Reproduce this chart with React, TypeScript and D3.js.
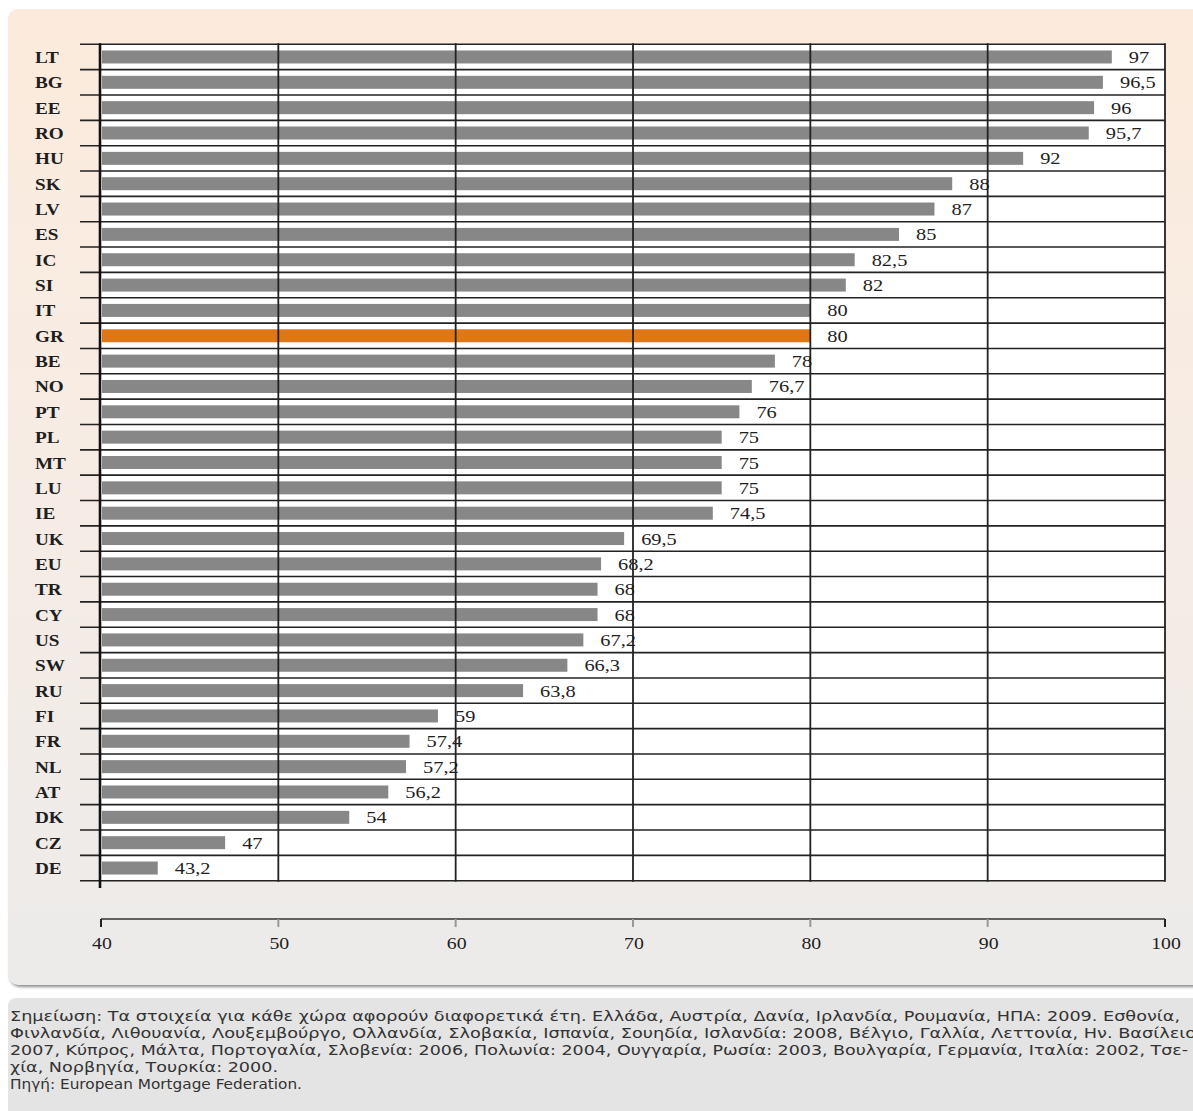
import React from "react";
import * as d3 from "d3";

const countries = ["LT","BG","EE","RO","HU","SK","LV","ES","IC","SI","IT","GR","BE","NO","PT","PL","MT","LU","IE","UK","EU","TR","CY","US","SW","RU","FI","FR","NL","AT","DK","CZ","DE"];
const values = [97,96.5,96,95.7,92,88,87,85,82.5,82,80,80,78,76.7,76,75,75,75,74.5,69.5,68.2,68,68,67.2,66.3,63.8,59,57.4,57.2,56.2,54,47,43.2];
const valueLabels = ["97","96,5","96","95,7","92","88","87","85","82,5","82","80","80","78","76,7","76","75","75","75","74,5","69,5","68,2","68","68","67,2","66,3","63,8","59","57,4","57,2","56,2","54","47","43,2"];
const highlight = "GR";
const xTicks = [40,50,60,70,80,90,100];
const noteLines = [
  "Σημείωση: Τα στοιχεία για κάθε χώρα αφορούν διαφορετικά έτη. Ελλάδα, Αυστρία, Δανία, Ιρλανδία, Ρουμανία, ΗΠΑ: 2009. Εσθονία,",
  "Φινλανδία, Λιθουανία, Λουξεμβούργο, Ολλανδία, Σλοβακία, Ισπανία, Σουηδία, Ισλανδία: 2008, Βέλγιο, Γαλλία, Λεττονία, Ην. Βασίλειο:",
  "2007, Κύπρος, Μάλτα, Πορτογαλία, Σλοβενία: 2006, Πολωνία: 2004, Ουγγαρία, Ρωσία: 2003, Βουλγαρία, Γερμανία, Ιταλία: 2002, Τσε-",
  "χία, Νορβηγία, Τουρκία: 2000.",
  "Πηγή: European Mortgage Federation."
];
const noteWidths = [1170, 1192, 1178, 268, 292];

const W = 1193, H = 1111;
const serif = "'Liberation Serif', 'Times New Roman', serif";

function SText({ x, y, anchor = "start", bold = false, size = 16, children }: any) {
  return (
    <g transform={`translate(${x},${y}) scale(1.2,1)`}>
      <text x={0} y={0} textAnchor={anchor} fontFamily={serif} fontSize={size}
        fontWeight={bold ? "bold" : "normal"} fill="#1e1e1e">{children}</text>
    </g>
  );
}

export default function App() {
  const x = d3.scaleLinear().domain([40, 100]).range([101, 1165]);
  const y = d3.scaleBand<string>().domain(countries).range([44.3, 880.7]).paddingInner(0).paddingOuter(0);
  const step = y.step();
  const barH = 13;
  const top = 44.3, bottom = 880.7;
  const axisY = 919;
  const boundaries = d3.range(countries.length + 1).map(i => top + i * step);

  return (
    <svg width={W} height={H} style={{ position: "absolute", left: 0, top: 0, display: "block" }}>
      <defs>
        <linearGradient id="panelGrad" x1="0" y1="0" x2="0" y2="1">
          <stop offset="0" stopColor="#fcebdc" />
          <stop offset="0.45" stopColor="#f7ece4" />
          <stop offset="1" stopColor="#ecebea" />
        </linearGradient>
        <filter id="shadow" x="-5%" y="-5%" width="110%" height="110%">
          <feGaussianBlur stdDeviation="1.5" />
        </filter>
      </defs>
      <rect x={0} y={0} width={W} height={H} fill="#ffffff" />
      {/* panel shadow */}
      <rect x={10} y={12} width={1200} height={975} rx={10} fill="#8a8a8a" filter="url(#shadow)" />
      <rect x={8} y={9} width={1200} height={976} rx={10} fill="url(#panelGrad)" />
      {/* footnote box */}
      <rect x={8} y={998} width={1200} height={130} rx={8} fill="#e4e4e4" />

      {/* plot background */}
      <rect x={x(40)} y={top} width={x(100) - x(40)} height={bottom - top} fill="#ffffff" />

      {/* bars */}
      {countries.map((c, i) => (
        <rect key={c} x={x(40) + 1} y={(y(c) as number) + step / 2 - barH / 2}
          width={x(values[i]) - x(40) - 1} height={barH}
          fill={c === highlight ? "#e07716" : "#878787"} />
      ))}

      {/* vertical grid lines */}
      {xTicks.slice(1).map(t => (
        <line key={t} x1={x(t)} x2={x(t)} y1={top - 1} y2={bottom + 1} stroke="#222" strokeWidth={1.8} />
      ))}
      {/* row lines */}
      {boundaries.map((b, i) => (
        <line key={i} x1={80} x2={x(100)} y1={b} y2={b} stroke="#222" strokeWidth={1.6} />
      ))}
      {/* left axis */}
      <line x1={100} x2={100} y1={top - 1} y2={888} stroke="#111" strokeWidth={2.6} />

      {/* country labels */}
      {countries.map(c => (
        <SText key={c} x={35} y={(y(c) as number) + step / 2 + 6} bold size={16}>{c}</SText>
      ))}
      {/* value labels */}
      {countries.map((c, i) => (
        <SText key={c} x={x(values[i]) + 17} y={(y(c) as number) + step / 2 + 6} size={17}>{valueLabels[i]}</SText>
      ))}

      {/* bottom axis */}
      <line x1={x(40)} x2={x(100)} y1={axisY} y2={axisY} stroke="#333" strokeWidth={1.6} />
      {xTicks.map(t => (
        <g key={t}>
          <line x1={x(t)} x2={x(t)} y1={axisY} y2={axisY + 8}
            stroke={t === 40 || t === 100 ? "#222" : "#999"} strokeWidth={2} />
          <SText x={x(t) + 1} y={axisY + 30} anchor="middle" size={16.5}>{String(t)}</SText>
        </g>
      ))}

      {/* footnote */}
      {noteLines.map((l, i) => (
        <text key={i} x={10} y={1021 + i * 17} fontFamily="'DejaVu Sans', sans-serif" fontSize={13.5}
          fill="#333" textLength={noteWidths[i]} lengthAdjust="spacingAndGlyphs">{l}</text>
      ))}
    </svg>
  );
}
